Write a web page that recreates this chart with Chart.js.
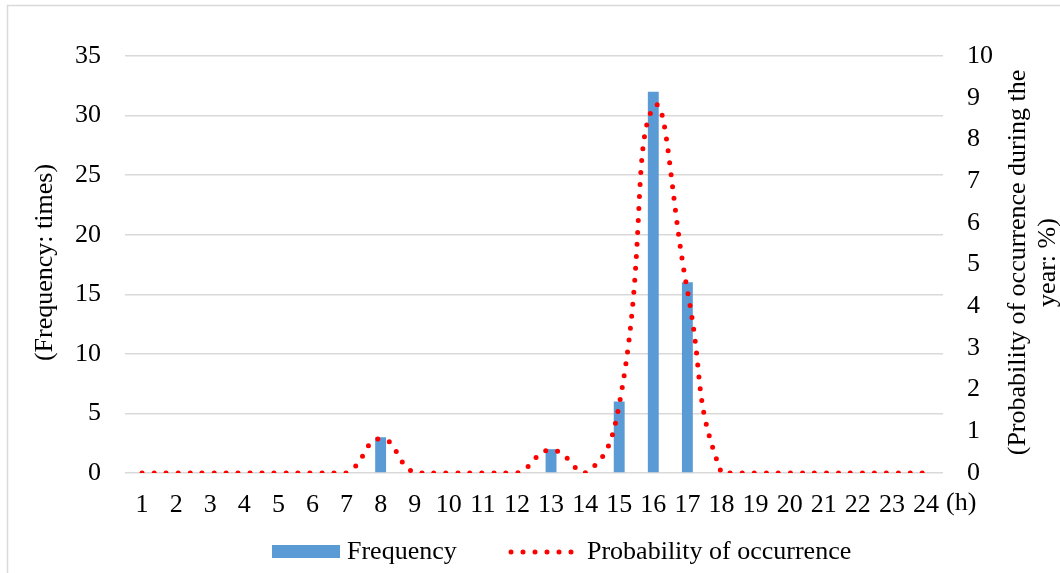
<!DOCTYPE html>
<html>
<head>
<meta charset="utf-8">
<script src="https://cdn.jsdelivr.net/npm/chart.js@4.4.0/dist/chart.umd.min.js"></script>
<style>
  body { margin: 0; background: #fff; }
  #wrap { width: 1060px; height: 573px; }
</style>
</head>
<body>
<div id="wrap"><canvas id="hourChart" width="1060" height="573"></canvas></div>
<script>
// hour of day
const hours = ['1', '2', '3', '4', '5', '6', '7', '8', '9', '10', '11', '12',
               '13', '14', '15', '16', '17', '18', '19', '20', '21', '22', '23', '24'];
// number of occurrences in each hour
const frequency = [0, 0, 0, 0, 0, 0, 0, 3, 0, 0, 0, 0,
                   2, 0, 6, 32, 16, 0, 0, 0, 0, 0, 0, 0];
// probability of occurrence during the year (%)
const probability = [0, 0, 0, 0, 0, 0, 0, 0.82, 0, 0, 0, 0,
                     0.55, 0, 1.64, 8.77, 4.38, 0, 0, 0, 0, 0, 0, 0];

const serif = "'Liberation Serif', 'Times New Roman', serif";
const fontSize = 26;
const barBlue = '#5b9bd5';
const dotRed = '#ff0000';
const gridGray = '#d9d9d9';

// frame, axis titles, unit label and legend drawn straight onto the canvas
const decorations = {
    id: 'decorations',
    beforeDraw(chart) {
        const ctx = chart.ctx;
        ctx.save();
        ctx.strokeStyle = gridGray;
        ctx.lineWidth = 1.5;
        ctx.beginPath();
        ctx.moveTo(7.5, 573);
        ctx.lineTo(7.5, 5.5);
        ctx.lineTo(1060, 5.5);
        ctx.stroke();
        ctx.restore();
    },
    afterDraw(chart) {
        const ctx = chart.ctx;
        const area = chart.chartArea;
        const midY = (area.top + area.bottom) / 2 - 2;
        ctx.save();
        ctx.fillStyle = '#000';
        ctx.font = fontSize + 'px ' + serif;
        ctx.textAlign = 'center';
        ctx.textBaseline = 'middle';

        // left axis title
        ctx.save();
        ctx.translate(45, midY);
        ctx.rotate(-Math.PI / 2);
        ctx.fillText('(Frequency: times)', 0, 0);
        ctx.restore();

        // right axis title, two lines
        ctx.save();
        ctx.translate(1018, midY);
        ctx.rotate(-Math.PI / 2);
        ctx.fillText('(Probability of occurrence during the', 0, 0);
        ctx.fillText('year: %)', 0, 30);
        ctx.restore();

        // unit after the last hour
        ctx.textAlign = 'left';
        ctx.fillText('(h)', 946, 503);

        // legend
        ctx.fillStyle = barBlue;
        ctx.fillRect(272, 545, 68, 13);
        ctx.fillStyle = '#000';
        ctx.fillText('Frequency', 347, 552);

        ctx.strokeStyle = dotRed;
        ctx.lineWidth = 5;
        ctx.lineCap = 'round';
        ctx.setLineDash([0, 12]);
        ctx.beginPath();
        ctx.moveTo(511, 552);
        ctx.lineTo(572, 552);
        ctx.stroke();
        ctx.setLineDash([]);
        ctx.fillText('Probability of occurrence', 587, 552);
        ctx.restore();
    }
};

const hourChart = new Chart(document.getElementById('hourChart'), {
    type: 'bar',
    data: {
        labels: hours,
        datasets: [{
            label: 'Frequency',
            data: frequency,
            backgroundColor: barBlue,
            barPercentage: 0.32,
            categoryPercentage: 1,
            yAxisID: 'y',
            order: 2
        }, {
            type: 'line',
            label: 'Probability of occurrence',
            data: probability,
            borderColor: dotRed,
            borderWidth: 5,
            borderDash: [0, 12],
            borderCapStyle: 'round',
            pointRadius: 0,
            tension: 0.5,
            fill: false,
            yAxisID: 'y1',
            order: 1
        }]
    },
    options: {
        responsive: false,
        animation: false,
        layout: { padding: { left: 60, right: 0, top: 56, bottom: 50 } },
        plugins: {
            legend: { display: false },
            tooltip: { enabled: false }
        },
        scales: {
            x: {
                grid: { display: false },
                border: { display: false },
                ticks: {
                    color: '#000',
                    font: { family: serif, size: fontSize },
                    padding: 9,
                    maxRotation: 0,
                    autoSkip: false
                },
                afterFit(scale) { scale.height = 50; }
            },
            y: {
                position: 'left',
                min: 0,
                max: 35,
                ticks: {
                    stepSize: 5,
                    color: '#000',
                    font: { family: serif, size: fontSize },
                    padding: 24
                },
                grid: { color: gridGray, lineWidth: 1.5, drawTicks: false },
                border: { display: false },
                afterFit(scale) { scale.width = 65; }
            },
            y1: {
                position: 'right',
                min: 0,
                max: 10,
                ticks: {
                    stepSize: 1,
                    color: '#000',
                    font: { family: serif, size: fontSize },
                    padding: 24
                },
                grid: { display: false, drawTicks: false },
                border: { display: false },
                afterFit(scale) { scale.width = 117; }
            }
        }
    },
    plugins: [decorations]
});
</script>
</body>
</html>
